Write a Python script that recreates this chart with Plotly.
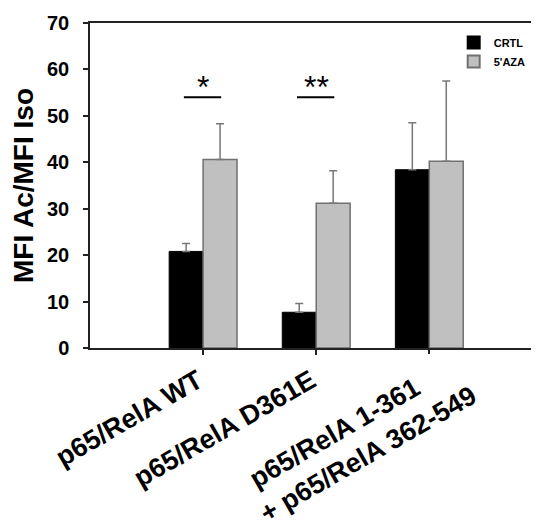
import plotly.graph_objects as go

categories = ["p65/RelA WT", "p65/RelA D361E", "p65/RelA 1-361<br>+ p65/RelA 362-549"]
crtl_values = [20.8, 7.7, 38.4]
crtl_err = [1.7, 1.9, 10.1]
aza_values = [40.6, 31.2, 40.2]
aza_err = [7.7, 7.0, 17.3]
sig_groups = [0, 1]
sig_labels = ["*", "**"]
sig_level = [54, 54]

FONT = "Liberation Sans, Arial, sans-serif"
NB = "\u00a0"
xpos = list(range(len(categories)))
single = [i for i, c in enumerate(categories) if "<br>" not in c]
multi = [i for i, c in enumerate(categories) if "<br>" in c]


def tick_text(c):
    lines = c.split("<br>")
    if len(lines) == 2:
        lines[0] = lines[0] + NB * 6
    return "<br>".join(lines)


fig = go.Figure()
fig.add_trace(go.Bar(
    name="CRTL", x=xpos, y=crtl_values,
    marker=dict(color="#000000", line=dict(color="#000000", width=1)),
    error_y=dict(type="data", array=crtl_err, arrayminus=[0]*3, symmetric=False,
                 color="#777777", thickness=1.5, width=4),
))
fig.add_trace(go.Bar(
    name="5'AZA", x=xpos, y=aza_values,
    marker=dict(color="#c0c0c0", line=dict(color="#707070", width=1.5)),
    error_y=dict(type="data", array=aza_err, arrayminus=[0]*3, symmetric=False,
                 color="#777777", thickness=1.5, width=4),
))
# empty helper trace so the second (label-only) x axis is drawn
fig.add_trace(go.Scatter(x=[], y=[], xaxis="x2", yaxis="y", showlegend=False, hoverinfo="skip"))

for g, lab, lv in zip(sig_groups, sig_labels, sig_level):
    fig.add_shape(type="line", xref="x", yref="y", x0=g - 0.17, x1=g + 0.16, y0=lv, y1=lv,
                  line=dict(color="#000000", width=2))
    fig.add_annotation(x=g, y=lv, xref="x", yref="y", text=lab, showarrow=False,
                       yanchor="bottom", yshift=-10, font=dict(family=FONT, size=32, color="#000"))

XR = [-1.0, 2.97]
tickfont = dict(family=FONT, size=27, color="#000", weight="bold")

# page body has an 8px margin, so the figure is 8px smaller than the window
fig.update_layout(
    width=531, height=519,
    margin=dict(l=82, r=0, t=15, b=179),
    paper_bgcolor="white", plot_bgcolor="white",
    barmode="group", bargap=0.4, bargroupgap=0,
    font=dict(family=FONT, color="#000000"),
    showlegend=True,
    legend=dict(x=0.81, y=0.985, xanchor="left", yanchor="top",
                font=dict(family=FONT, size=11, color="#000", weight="bold"),
                bgcolor="rgba(0,0,0,0)", tracegroupgap=0, itemsizing="constant"),
    xaxis=dict(
        range=XR, tickmode="array", tickvals=single,
        ticktext=[tick_text(categories[i]) for i in single],
        tickangle=-30, ticks="outside", ticklen=5, tickwidth=1.5, tickcolor="#222",
        showline=True, linecolor="#222", linewidth=1.5, mirror=True,
        showgrid=False, zeroline=False, automargin=False, ticklabelshift=-5,
        tickfont=tickfont,
    ),
    xaxis2=dict(
        range=XR, overlaying="x", anchor="y", side="bottom", tickmode="array", tickvals=multi,
        ticktext=[tick_text(categories[i]) for i in multi],
        tickangle=-30, ticks="outside", ticklen=5, tickwidth=1.5, tickcolor="#222",
        showline=False, showgrid=False, zeroline=False, automargin=False,
        ticklabelshift=25, ticklabelstandoff=-14,
        tickfont=tickfont,
    ),
    yaxis=dict(
        range=[0, 70], tickvals=[0, 10, 20, 30, 40, 50, 60, 70],
        ticks="outside", ticklen=5, tickwidth=1.5, tickcolor="#222",
        showline=True, linecolor="#222", linewidth=1.5,
        showgrid=False, zeroline=False, ticklabelstandoff=10, automargin=False,
        tickfont=dict(family=FONT, size=20, color="#000", weight="bold"),
        title=dict(text="MFI Ac/MFI Iso", font=dict(family=FONT, size=28, color="#000", weight="bold"), standoff=11),
    ),
)

fig.write_html("out.html")
